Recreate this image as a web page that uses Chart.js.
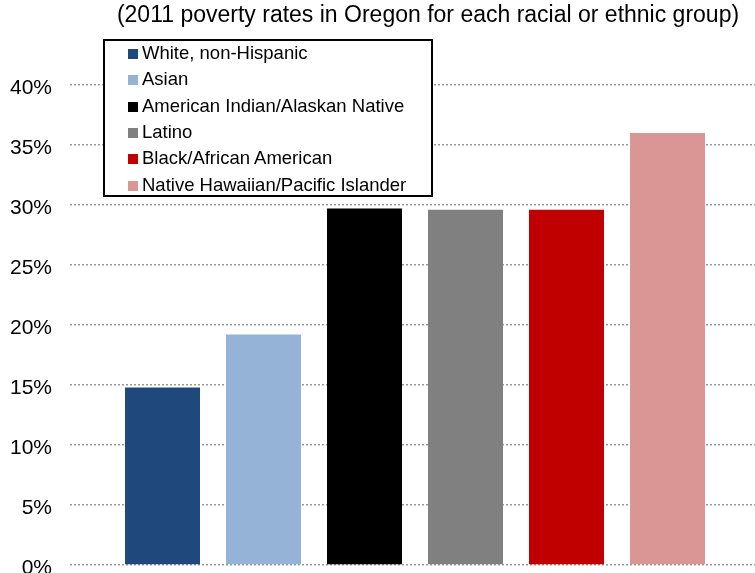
<!DOCTYPE html>
<html>
<head>
<meta charset="utf-8">
<script src="https://cdn.jsdelivr.net/npm/chart.js@4/dist/chart.umd.min.js"></script>
<style>
  html, body { margin: 0; padding: 0; background: #fff; overflow: hidden; }
  body { font-family: "Liberation Sans", Arial, sans-serif; color: #000; }
  .wrap { position: relative; width: 760px; height: 573px; }
  .subtitle { position: absolute; left: 0; top: 1px; width: 856px; text-align: center; font-size: 23px; line-height: 26px; }
  .legend { position: absolute; left: 103px; top: 39px; width: 326px; height: 154px; border: 2px solid #000; background: #fff; }
  .legend .row { position: absolute; left: 23px; height: 26px; line-height: 26px; font-size: 18.5px; white-space: nowrap; }
  .legend .sw { display: inline-block; width: 10px; height: 10px; margin-right: 4px; vertical-align: 0px; }
</style>
</head>
<body>
<div class="wrap">
  <canvas id="chartPov"></canvas>
  <div class="subtitle">(2011 poverty rates in Oregon for each racial or ethnic group)</div>
  <div class="legend" id="legend"></div>
</div>
<script>
// Oregon 2011 poverty rate by racial / ethnic group (percent)
var GROUPS = ['White, non-Hispanic', 'Asian', 'American Indian/Alaskan Native', 'Latino',
  'Black/African American', 'Native Hawaiian/Pacific Islander'];
var RATES = [14.8, 19.2, 29.7, 29.6, 29.6, 36.0];
var COLORS = ['#1f497d', '#95b3d7', '#000000', '#808080', '#c00000', '#d99694'];
var Y_TICKS = [0, 5, 10, 15, 20, 25, 30, 35, 40];

(function () {
  var cv = document.getElementById('chartPov');
  cv.width = 760; cv.height = 573;
  cv.style.width = '760px'; cv.style.height = '573px';

  // one category, one dataset per group (so each group is its own series)
  var datasets = GROUPS.map(function (g, i) {
    return { label: g, data: [RATES[i]], backgroundColor: COLORS[i], borderWidth: 0,
      categoryPercentage: 606 / 690, barPercentage: 75 / 101 };
  });

  new Chart(cv.getContext('2d'), {
    type: 'bar',
    data: { labels: ['2011'], datasets: datasets },
    options: {
      responsive: false, animation: false,
      layout: { padding: { top: 85, bottom: 8, left: 0, right: 0 } },
      plugins: { legend: { display: false }, title: { display: false }, tooltip: { enabled: false } },
      scales: {
        x: { display: false },
        y: {
          min: Y_TICKS[0], max: Y_TICKS[Y_TICKS.length - 1],
          // fixed axis width; tick padding would otherwise push the plot bottom up
          afterFit: function (s) { s.width = 70; s.paddingTop = 0; s.paddingBottom = 0; },
          afterBuildTicks: function (s) { s.ticks = Y_TICKS.map(function (v) { return { value: v }; }); },
          ticks: { padding: 18, labelOffset: 3, color: '#000', font: { family: 'Liberation Sans', size: 21 },
            callback: function (v) { return v + '%'; } },
          grid: { color: '#999', lineWidth: 1.5, drawTicks: false },
          border: { display: false, dash: [2, 2] }
        }
      }
    }
  });

  // boxed legend, stacked vertically
  var lg = document.getElementById('legend');
  lg.innerHTML = GROUPS.map(function (g, i) {
    return '<div class="row" style="top:' + (-1 + i * 26.3).toFixed(1) + 'px"><span class="sw" style="background:' +
      COLORS[i] + '"></span>' + g + '</div>';
  }).join('');
})();
</script>
</body>
</html>
